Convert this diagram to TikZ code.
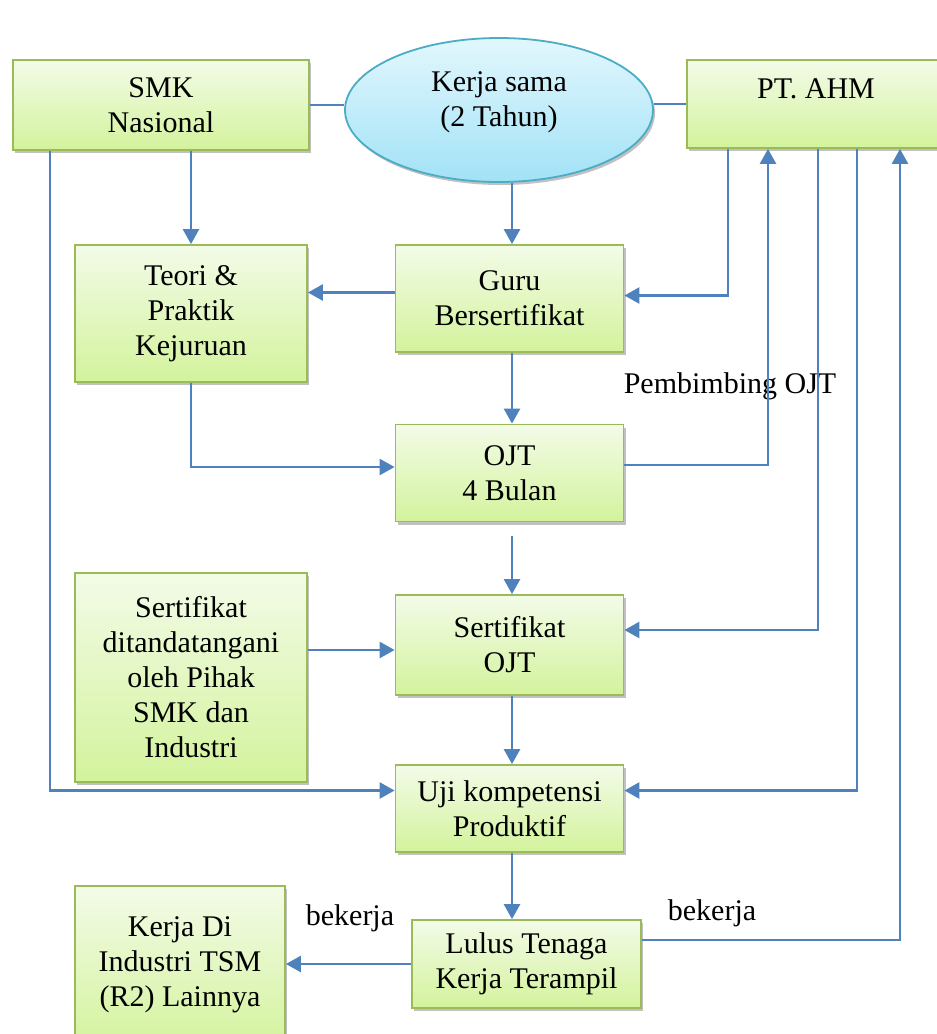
\documentclass[tikz,border=0pt]{standalone}
\usepackage{fontspec}
\setmainfont{Liberation Serif}
\usetikzlibrary{arrows.meta,shadows,shapes.geometric}
\definecolor{hijaugaris}{HTML}{9BBB59}
\definecolor{hijauatas}{HTML}{F3FBE8}
\definecolor{hijaubawah}{HTML}{D3F39C}
\definecolor{birugaris}{HTML}{4BACC6}
\definecolor{biruatas}{HTML}{E2F7FD}
\definecolor{birubawah}{HTML}{A2E2F6}
\definecolor{panahbiru}{HTML}{4F81BD}

\begin{document}
\begin{tikzpicture}[x=1pt,y=-1pt,
  teks/.style={font=\fontsize{30}{35}\selectfont,align=center,inner sep=0pt},
  kotak/.style={teks,draw=hijaugaris,line width=1.8pt,top color=hijauatas,bottom color=hijaubawah,
    drop shadow={shadow xshift=2pt,shadow yshift=-3pt,opacity=.35,fill=black!70}},
  elips/.style={teks,ellipse,draw=birugaris,line width=1.8pt,top color=biruatas,bottom color=birubawah,
    drop shadow={shadow xshift=2pt,shadow yshift=-3pt,opacity=.35,fill=black!70}},
  garis/.style={draw=panahbiru,line width=2.6pt},
  panah/.style={garis,-{Triangle[width=16pt,length=15pt]}}]
\useasboundingbox (0,0) rectangle (937,1034);

% atas
\node[kotak,minimum width=296pt,minimum height=90pt] (smk) at (161,105) {SMK\\Nasional};
\node[elips,minimum width=308pt,minimum height=144pt,text depth=22pt] (kerjasama) at (499,110) {Kerja sama\\(2 Tahun)};
\node[kotak,minimum width=258pt,minimum height=88pt,text depth=30pt] (ahm) at (816,104) {PT. AHM};

% tengah
\node[kotak,minimum width=232pt,minimum height=137pt] (teori) at (191,313.5) {Teori \&\\Praktik\\Kejuruan};
\node[kotak,minimum width=228pt,minimum height=107pt] (guru) at (509.5,298.5) {Guru\\Bersertifikat};
\node[kotak,minimum width=228pt,minimum height=97pt] (ojt) at (509.5,473) {OJT\\4 Bulan};
\node[kotak,minimum width=228pt,minimum height=100pt] (sojt) at (509.5,645) {Sertifikat\\OJT};
\node[kotak,minimum width=232pt,minimum height=209pt] (ttd) at (191,677.5) {Sertifikat\\ditandatangani\\oleh Pihak\\SMK dan\\Industri};
\node[kotak,minimum width=228pt,minimum height=87pt] (uji) at (509.5,808.5) {Uji kompetensi\\Produktif};

% bawah
\node[kotak,minimum width=229pt,minimum height=88pt] (lulus) at (526.5,964) {Lulus Tenaga\\Kerja Terampil};
\node[kotak,minimum width=210pt,minimum height=164pt,text depth=12pt] (kerjadi) at (180,968) {Kerja Di\\Industri TSM\\(R2) Lainnya};

\node[teks] (pembimbing) at (730,386) {Pembimbing OJT};
\node[teks] (bekerjakiri) at (350,918) {bekerja};
\node[teks] (bekerjakanan) at (712,913) {bekerja};

% penghubung
\draw[garis] (smk.east) -- (smk.east -| kerjasama.west);
\draw[garis] (ahm.west -| kerjasama.east) -- (ahm.west);
\draw[panah] (smk.south -| teori.north) -- (teori.north);
\draw[panah] (smk.south -| 50,0) |- ([yshift=18pt]uji.west);
\draw[panah] (kerjasama.south -| 512,0) -- (guru.north -| 512,0);
\draw[panah] ([yshift=6pt]guru.west) -- ([yshift=6pt]guru.west -| teori.east);
\draw[panah] (guru.south -| 512,0) -- (ojt.north -| 512,0);
\draw[panah] (teori.south) |- ([yshift=6pt]ojt.west);
\draw[panah] ([yshift=8pt]ojt.east) -| ([xshift=-48pt]ahm.south);
\draw[panah] ([xshift=-88pt]ahm.south) |- ([yshift=3pt]guru.east);
\draw[panah] ([xshift=2pt]ahm.south) |- ([yshift=15pt]sojt.east);
\draw[panah] ([xshift=41pt]ahm.south) |- ([yshift=18pt]uji.east);
\draw[panah] ([yshift=24pt]lulus.east) -| ([xshift=84pt]ahm.south);
\draw[panah,shorten <=14pt] (ojt.south -| 512,0) -- (sojt.north -| 512,0);
\draw[panah] ([yshift=-5pt]sojt.west -| ttd.east) -- ([yshift=-5pt]sojt.west);
\draw[panah] (sojt.south -| 512,0) -- (uji.north -| 512,0);
\draw[panah] (uji.south -| 512,0) -- (lulus.north -| 512,0);
\draw[panah] (lulus.west) -- (lulus.west -| kerjadi.east);
\end{tikzpicture}
\end{document}
